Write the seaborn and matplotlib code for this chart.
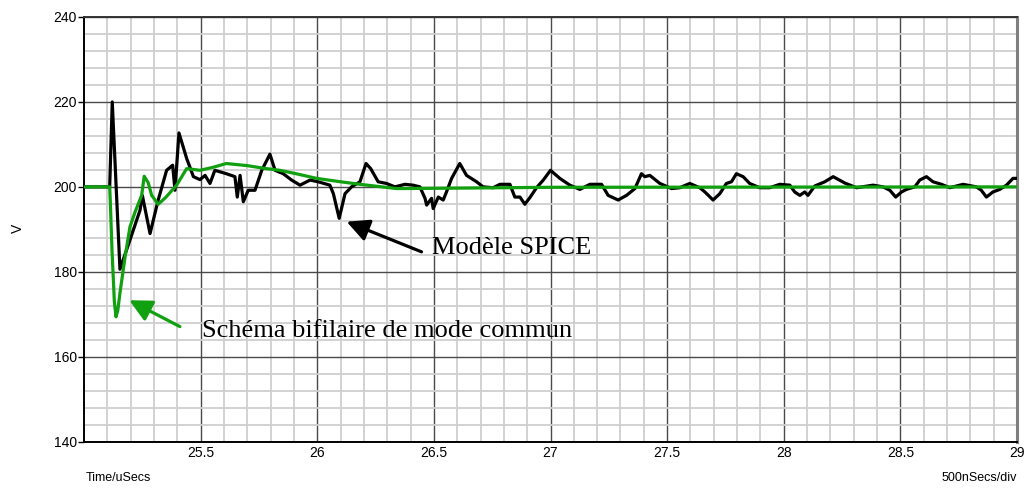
import matplotlib
matplotlib.use("Agg")
import matplotlib.pyplot as plt
from matplotlib.ticker import MultipleLocator, FormatStrFormatter
import seaborn as sns
import pandas as pd

# Time axis (µs) and voltage (V) for the SPICE model response
spice_t = [25.00, 25.11, 25.121, 25.154, 25.197, 25.24, 25.25, 25.283, 25.318, 25.354,
           25.38, 25.39, 25.407, 25.44, 25.469, 25.497, 25.519, 25.54, 25.561, 25.61,
           25.647, 25.657, 25.669, 25.683, 25.704, 25.733, 25.762, 25.797, 25.819, 25.854,
           25.89, 25.926, 25.969, 26.004, 26.054, 26.069, 26.094, 26.119, 26.147, 26.183,
           26.209, 26.229, 26.261, 26.297, 26.333, 26.376, 26.411, 26.44, 26.462, 26.469,
           26.49, 26.497, 26.519, 26.54, 26.554, 26.576, 26.611, 26.64, 26.683, 26.711,
           26.754, 26.783, 26.826, 26.847, 26.869, 26.89, 26.912, 26.94, 26.969, 27.0,
           27.04, 27.083, 27.126, 27.169, 27.219, 27.247, 27.29, 27.326, 27.362, 27.39,
           27.404, 27.426, 27.469, 27.519, 27.554, 27.597, 27.64, 27.662, 27.697, 27.726,
           27.754, 27.776, 27.797, 27.826, 27.854, 27.897, 27.94, 27.983, 28.026, 28.047,
           28.069, 28.09, 28.104, 28.133, 28.176, 28.212, 28.262, 28.312, 28.383, 28.426,
           28.455, 28.48, 28.505, 28.526, 28.562, 28.583, 28.612, 28.64, 28.676, 28.712,
           28.769, 28.826, 28.847, 28.869, 28.897, 28.926, 28.955, 28.983, 29.0]
spice_v = [200, 200, 220, 180.6, 187.5, 194.5, 198, 189, 196.9, 203.9,
           205.1, 199.2, 212.7, 206.7, 202.4, 201.7, 202.7, 200.8, 203.9, 203.1,
           202.4, 197.6, 202.7, 196.5, 199.2, 199.2, 203.9, 207.7, 203.9, 203.1,
           201.6, 200.4, 201.6, 201.2, 200.4, 198.4, 192.6, 198.4, 200, 201.2,
           205.5, 204.3, 201.2, 200.8, 200, 200.6, 200.4, 200, 197.3, 195.7,
           197.3, 194.9, 197.6, 196.9, 198.8, 202, 205.5, 202.7, 201.2, 200,
           199.8, 200.6, 200.6, 197.6, 197.6, 195.9, 197.5, 199.8, 201.6, 203.9,
           202, 200.4, 199.4, 200.6, 200.6, 198, 196.9, 198, 199.6, 203.1,
           202.4, 202.7, 200.8, 199.6, 199.8, 200.8, 199.8, 198.8, 196.9, 198.4,
           200.8, 201.2, 203.1, 202.4, 200.8, 199.8, 199.8, 200.6, 200.4, 198.8,
           198, 198.8, 198, 200.2, 201.2, 202.4, 200.9, 199.8, 200.4, 200,
           199.2, 197.6, 198.8, 199.4, 200, 201.6, 202.4, 201.2, 200.6, 199.8,
           200.6, 200, 199.2, 197.6, 198.8, 199.4, 200.4, 202, 202]

# Two-wire common-mode equivalent circuit response
bifil_t = [25.00, 25.11, 25.113, 25.12, 25.13, 25.137, 25.145, 25.154, 25.176, 25.197,
           25.219, 25.247, 25.258, 25.275, 25.29, 25.318, 25.35, 25.397, 25.44, 25.497,
           25.553, 25.61, 25.7, 25.78, 25.84, 25.917, 25.997, 26.1, 26.183, 26.34,
           26.6, 27.0, 29.0]
bifil_v = [200, 200, 196, 185, 173, 169.4, 171, 175, 183.5, 190.6,
           194.1, 198, 202.5, 201, 198, 195.9, 197.5, 200.4, 204.3, 203.9,
           204.6, 205.5, 205, 204.3, 203.9, 203, 202, 201.2, 200.6, 199.6,
           199.7, 199.9, 200]

x_ticks = [25.5, 26, 26.5, 27, 27.5, 28, 28.5, 29]
y_ticks = [140, 160, 180, 200, 220, 240]

sns.set_theme(style="white")
plt.rcParams["font.family"] = ["Liberation Sans", "DejaVu Sans"]
plt.rcParams["text.color"] = "black"

fig = plt.figure(figsize=(10.26, 4.88), dpi=100)
ax = fig.add_axes([0.0819, 0.0949, 0.9093, 0.8703])

spice_df = pd.DataFrame({"t": spice_t, "v": spice_v})
bifil_df = pd.DataFrame({"t": bifil_t, "v": bifil_v})

sns.lineplot(data=spice_df, x="t", y="v", ax=ax, color="black", linewidth=2.3,
             estimator=None, sort=False, zorder=3)
sns.lineplot(data=bifil_df, x="t", y="v", ax=ax, color="#10a010", linewidth=2.3,
             estimator=None, sort=False, zorder=4)

ax.set_xlim(25.0, 29.0)
ax.set_ylim(140, 240)
ax.set_xticks(x_ticks)
ax.set_yticks(y_ticks)
ax.xaxis.set_minor_locator(MultipleLocator(0.1))
ax.yaxis.set_minor_locator(MultipleLocator(4))
ax.xaxis.set_major_formatter(FormatStrFormatter("%g"))

ax.grid(which="minor", color="#cfcfcf", linewidth=1.3, zorder=0)
ax.grid(which="major", color="#4a4a4a", linewidth=1.0, zorder=1)
ax.set_axisbelow(True)

ax.tick_params(axis="x", which="major", length=0, pad=3, labelsize=10,
               colors="black", labelcolor="black")
ax.tick_params(axis="y", which="major", length=4, width=1, pad=1, labelsize=10,
               colors="black", labelcolor="black", left=True)
ax.tick_params(which="minor", length=0)

for side in ("left", "bottom", "top"):
    ax.spines[side].set_visible(True)
    ax.spines[side].set_color("black")
    ax.spines[side].set_linewidth(1.4)
ax.spines["top"].set_color("#333333")
ax.spines["right"].set_color("#808080")
ax.spines["right"].set_linewidth(2.2)

ax.set_xlabel("")
ax.set_ylabel("")

fig.text(0.0175, 0.532, "V", rotation=90, fontsize=10, ha="center", va="center",
         color="black")
fig.text(0.0838, 0.02, "Time/uSecs", fontsize=9, ha="left", va="center", color="black")
fig.text(0.9912, 0.02, "500nSecs/div", fontsize=9, ha="right", va="center", color="black")

serif = ["Liberation Serif", "DejaVu Serif"]
arrow_style = "-|>,head_length=0.9,head_width=0.45"

ax.annotate("", xy=(26.126, 191.8), xytext=(26.447, 184.7),
            arrowprops=dict(arrowstyle=arrow_style, color="black", lw=2.3,
                            shrinkA=0, shrinkB=0, mutation_scale=15), zorder=5)
ax.text(26.49, 185.6, "Modèle SPICE", family=serif, fontsize=19,
        ha="left", va="center", color="black", zorder=5)

ax.annotate("", xy=(25.194, 173.3), xytext=(25.411, 167.1),
            arrowprops=dict(arrowstyle=arrow_style, color="#10a010", lw=2.3,
                            shrinkA=0, shrinkB=0, mutation_scale=15), zorder=5)
ax.text(25.504, 166.0, "Schéma bifilaire de mode commun", family=serif, fontsize=19,
        ha="left", va="center", color="black", zorder=5)

fig.savefig("out.png", dpi=100)
